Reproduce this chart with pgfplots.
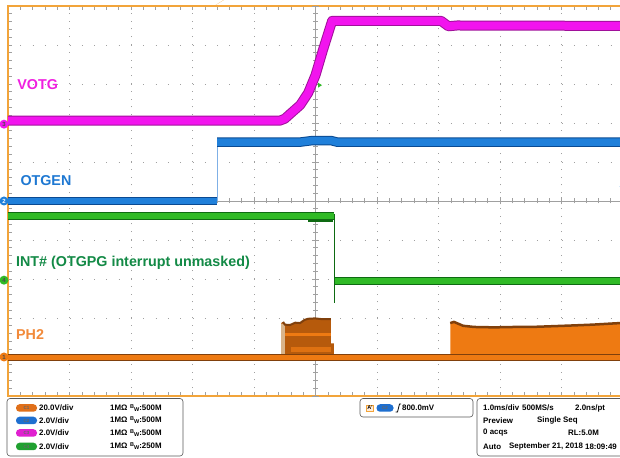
\documentclass[border=0pt]{standalone}
\usepackage{fontspec}
\setmainfont{Liberation Sans}
\usepackage{pgfplots}
\pgfplotsset{compat=1.18}
\definecolor{frameor}{HTML}{F2A43A}
\definecolor{gridc}{HTML}{A0A0A0}
\definecolor{magc}{HTML}{F214EE}
\definecolor{magd}{HTML}{A0109A}
\definecolor{bluc}{HTML}{2080DA}
\definecolor{blud}{HTML}{0A4A92}
\definecolor{bluv}{HTML}{7FB0E6}
\definecolor{grnc}{HTML}{30BA26}
\definecolor{grnd}{HTML}{0E6A12}
\definecolor{orc}{HTML}{EE7A12}
\definecolor{orb}{HTML}{B65A0C}
\definecolor{ord}{HTML}{80400C}
\definecolor{ortan}{HTML}{D9B48A}
\definecolor{txmag}{HTML}{F020E0}
\definecolor{txblu}{HTML}{1E78D2}
\definecolor{txgrn}{HTML}{138A46}
\definecolor{txor}{HTML}{F28A3A}
\definecolor{pC1}{HTML}{E0701A}
\definecolor{pC2}{HTML}{1E6FD0}
\definecolor{pC3}{HTML}{E020D0}
\definecolor{pC4}{HTML}{20A030}
\newcommand{\panel}{\fontsize{7.9}{9}\selectfont\bfseries}
\newcommand{\lbl}{\fontsize{14.3}{16}\selectfont\bfseries}
\begin{document}
\begin{tikzpicture}[x=1pt,y=1pt]
\fill[white] (0,0) rectangle (620,457);
\path[use as bounding box] (0,0) rectangle (620,457);
% graticule
\begin{axis}[at={(8pt,61pt)}, anchor=south west, scale only axis,
  width=612pt, height=390pt, xmin=-5, xmax=4.95, ymin=-5, ymax=5,
  clip=false, axis line style={draw=none},
  xtick={-5,...,5}, ytick={-5,...,5},
  minor x tick num=4, minor y tick num=4,
  tick align=inside, ytick pos=left,
  major tick length=4pt, minor tick length=4pt,
  every tick/.style={gridc, line width=0.6pt},
  xticklabels={}, yticklabels={},
  grid=major,
  major x grid style={gridc, line width=0.9pt, dash pattern=on 0.9pt off 6.9pt},
  major y grid style={gridc, line width=0.9pt, dash pattern=on 0.9pt off 11.4pt}]
\draw[frameor, line width=1.3pt] (axis cs:4.95,5) -- (axis cs:-5,5) -- (axis cs:-5,-5) -- (axis cs:4.95,-5);
\end{axis}
% centre lines
\begin{axis}[at={(8pt,61pt)}, anchor=south west, scale only axis,
  width=612pt, height=390pt, xmin=-5, xmax=4.95, ymin=-5, ymax=5,
  axis lines=middle, axis line style={-, gridc, line width=0.7pt},
  xtick={-5,...,5}, ytick={-5,...,5},
  minor x tick num=4, minor y tick num=4, tick align=center,
  major tick length=7pt, minor tick length=5pt,
  every tick/.style={gridc, line width=0.6pt},
  xticklabels={}, yticklabels={}]
\end{axis}
% traces
\begin{axis}[at={(8pt,61pt)}, anchor=south west, scale only axis,
  width=612pt, height=390pt, xmin=-5, xmax=4.95, ymin=-5, ymax=5,
  hide axis, clip=false]
% PH2 bursts
\addplot[fill=orb, draw=none] coordinates {(-0.561,-4.10) (-0.561,-3.13) (-0.528,-3.10) (-0.50,-3.17) (-0.415,-3.18) (-0.33,-3.12) (-0.252,-3.13) (-0.18,-3.05) (-0.122,-3.02) (-0.008,-3.01) (0.106,-3.03) (0.25,-3.03) (0.25,-3.65) (0.30,-3.65) (0.30,-4.10)} -- cycle;
\addplot[fill=ortan, draw=none] coordinates {(-0.561,-3.95) (-0.561,-3.14) (-0.50,-3.16) (-0.50,-3.95)} -- cycle;
\addplot[orc, line width=3pt] coordinates {(-0.50,-3.42) (0.25,-3.42)};
\addplot[orc!85!ord, line width=5pt] coordinates {(-0.40,-3.80) (0.25,-3.80)};
\addplot[ord, line width=2pt] coordinates {(-0.528,-3.10) (-0.50,-3.17) (-0.415,-3.18) (-0.33,-3.12) (-0.252,-3.13) (-0.18,-3.05) (-0.122,-3.02) (-0.008,-3.01) (0.106,-3.03) (0.25,-3.03)};
\addplot[fill=orc, draw=none] coordinates {(2.19,-4.10) (2.19,-3.13) (2.25,-3.10) (2.40,-3.20) (2.58,-3.23) (2.90,-3.24) (3.23,-3.23) (3.50,-3.23) (3.86,-3.21) (4.20,-3.19) (4.51,-3.17) (4.95,-3.13) (4.95,-4.10)} -- cycle;
\addplot[ord, line width=2.5pt] coordinates {(2.19,-3.13) (2.25,-3.10) (2.40,-3.20) (2.58,-3.23) (2.90,-3.24) (3.23,-3.23) (3.50,-3.23) (3.86,-3.21) (4.20,-3.19) (4.51,-3.17) (4.95,-3.13)};
% PH2 baseline
\addplot[ord, line width=7pt] coordinates {(-5,-4.01) (4.95,-4.01)};
\addplot[orc, line width=5pt] coordinates {(-5,-4.01) (4.95,-4.01)};
% INT#
\addplot[grnd, line width=8.5pt] coordinates {(-5,-0.385) (0.295,-0.385)};
\addplot[grnc, line width=6.5pt] coordinates {(-5,-0.385) (0.295,-0.385)};
\addplot[grnd, line width=2pt] coordinates {(-0.12,-0.52) (0.29,-0.52)};
\addplot[grnd, line width=0.9pt] coordinates {(0.30,-0.33) (0.30,-2.62)};
\addplot[grnd, line width=8pt] coordinates {(0.31,-2.05) (4.95,-2.05)};
\addplot[grnc, line width=6pt] coordinates {(0.31,-2.05) (4.95,-2.05)};
% OTGEN
\addplot[blud, line width=8.5pt] coordinates {(-5,0) (-1.60,0)};
\addplot[bluc, line width=6.5pt] coordinates {(-5,0) (-1.60,0)};
\addplot[bluv, line width=0.9pt] coordinates {(-1.60,0) (-1.60,1.51)};
\addplot[blud, line width=9.5pt] coordinates {(-1.60,1.51) (-0.25,1.51) (-0.05,1.55) (0.25,1.55) (0.35,1.51) (4.95,1.51)};
\addplot[bluc, line width=7.5pt] coordinates {(-1.60,1.51) (-0.25,1.51) (-0.05,1.55) (0.25,1.55) (0.35,1.51) (4.95,1.51)};
% VOTG
\addplot[magd, line width=10pt, line join=round] coordinates {(-5,2.06) (-0.58,2.06) (-0.50,2.11) (-0.415,2.23) (-0.25,2.46) (-0.12,2.77) (0,3.23) (0.12,3.87) (0.27,4.62) (2.04,4.62) (2.10,4.55) (2.16,4.48) (2.30,4.50) (4.95,4.49)};
\addplot[magc, line width=8pt, line join=round] coordinates {(-5,2.06) (-0.58,2.06) (-0.50,2.11) (-0.415,2.23) (-0.25,2.46) (-0.12,2.77) (0,3.23) (0.12,3.87) (0.27,4.62) (2.04,4.62) (2.10,4.55) (2.16,4.48) (2.30,4.50) (4.95,4.49)};
% labels
\node[anchor=base west, inner sep=0, font=\lbl, text=txmag] at (axis cs:-4.85,2.87) {VOTG};
\node[anchor=base west, inner sep=0, font=\lbl, text=txblu] at (axis cs:-4.80,0.385) {OTGEN};
\node[anchor=base west, inner sep=0, font=\lbl, text=txgrn] at (axis cs:-4.87,-1.67) {INT\# (OTGPG interrupt unmasked)};
\node[anchor=base west, inner sep=0, font=\lbl, text=txor] at (axis cs:-4.87,-3.56) {PH2};
% channel markers
\node[circle, fill=magc, inner sep=0, minimum size=9pt, font=\fontsize{6}{6}\selectfont\bfseries, text=black!70] at (axis cs:-5.065,1.97) {3};
\node[circle, fill=bluc, inner sep=0, minimum size=9pt, font=\fontsize{6}{6}\selectfont\bfseries, text=white] at (axis cs:-5.065,0) {2};
\node[circle, fill=grnc, inner sep=0, minimum size=9pt, font=\fontsize{6}{6}\selectfont\bfseries, text=black!70] at (axis cs:-5.065,-2.03) {4};
\fill[grnc] (axis cs:-4.96,-2.03) ++(0,-2.5pt) -- ++(4pt,2.5pt) -- ++(-4pt,2.5pt) -- cycle;
\node[circle, fill=orc, inner sep=0, minimum size=9pt, font=\fontsize{6}{6}\selectfont\bfseries, text=black!70] at (axis cs:-5.065,-4.0) {1};
% trigger markers
\fill[frameor] (axis cs:-1.607,5) ++(-3.5pt,-0.5pt) -- ++(7pt,0) -- ++(-3.5pt,-6pt) -- cycle;
\draw[bluc, line width=1.2pt] (axis cs:4.95,0.36) -- ++(-9pt,0);
\fill[bluc] (axis cs:4.95,0.36) ++(-14pt,0) -- ++(6pt,3pt) -- ++(0,-6pt) -- cycle;
\end{axis}
% bottom panel
\draw[rounded corners=3pt, black!65, line width=0.6pt] (7,58.5) rectangle (183,1);
\draw[rounded corners=3pt, black!65, line width=0.6pt] (360,58.5) rectangle (473,40);
\draw[rounded corners=3pt, black!65, line width=0.6pt] (477,58.5) rectangle (626,1);
\foreach \y/\c/\n/\v/\b in {49/pC1/C1/20.0V/500M, 36.5/pC2/C2/2.0V/500M, 24/pC3/C3/2.0V/500M, 10.5/pC4/C4/2.0V/250M}{
  \node[fill=\c, rounded corners=3.5pt, minimum width=21pt, minimum height=7.5pt, inner sep=0, font=\fontsize{4.5}{5}\selectfont\bfseries, text=black!60] at (26.5,\y) {\n};
  \node[anchor=west, inner sep=0, font=\panel] at (39,\y) {\v/div};
  \node[anchor=west, inner sep=0, font=\panel] at (110,\y) {1MΩ\,\,{\fontsize{5.5}{5}\selectfont\raisebox{2pt}{B}\raisebox{-1pt}{W}}:\b};
}
\node[draw=frameor, fill=orange!15, inner sep=1pt, font=\fontsize{5.5}{6}\selectfont\bfseries] at (370,49) {A'};
\node[fill=pC2, rounded corners=3.5pt, minimum width=17pt, minimum height=7.5pt, inner sep=0, font=\fontsize{4.5}{5}\selectfont\bfseries, text=black!60] at (385,49) {C2};
\draw[black, line width=0.8pt] (395.5,45) -- (397.5,45) -- (399.5,53) -- (401,53);
\node[anchor=west, inner sep=0, font=\panel] at (402,49) {800.0mV};
\node[anchor=west, inner sep=0, font=\panel] at (483,49) {1.0ms/div};
\node[anchor=west, inner sep=0, font=\panel] at (522,49) {500MS/s};
\node[anchor=west, inner sep=0, font=\panel] at (575,49) {2.0ns/pt};
\node[anchor=west, inner sep=0, font=\panel] at (483,36.5) {Preview};
\node[anchor=west, inner sep=0, font=\panel] at (537,36.5) {Single Seq};
\node[anchor=west, inner sep=0, font=\panel] at (483,24) {0 acqs};
\node[anchor=west, inner sep=0, font=\panel] at (568,24) {RL:5.0M};
\node[anchor=west, inner sep=0, font=\panel] at (483,10.5) {Auto};
\node[anchor=west, inner sep=0, font=\panel] at (509,10.5) {September 21, 2018};
\node[anchor=east, inner sep=0, font=\panel] at (617,10.5) {18:09:49};
\end{tikzpicture}
\end{document}
